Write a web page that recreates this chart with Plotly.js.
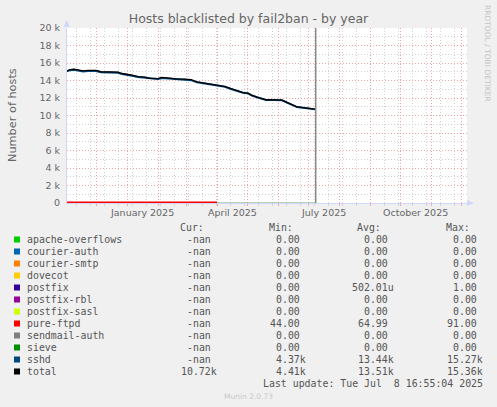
<!DOCTYPE html>
<html><head><meta charset="utf-8">
<script src="https://cdn.plot.ly/plotly-3.0.1.min.js"></script>
<style>html,body{margin:0;padding:0;background:#f0f0f0;}#chart{width:497px;height:407px;}</style>
</head><body><div id="chart"></div>
<script>
// ---- data ----
const dates = ['2024-11-02','2024-11-05','2024-11-09','2024-11-13','2024-11-18','2024-11-23','2024-12-01','2024-12-06','2024-12-13','2024-12-19','2024-12-23','2024-12-27','2025-01-02','2025-01-06','2025-01-12','2025-01-19','2025-01-23','2025-02-01','2025-02-05','2025-02-09','2025-02-15','2025-02-19','2025-02-28','2025-03-06','2025-03-12','2025-03-20','2025-03-26','2025-04-02','2025-04-09','2025-04-15','2025-04-21','2025-04-27','2025-05-02','2025-05-06','2025-05-11','2025-05-16','2025-05-20','2025-05-28','2025-06-05','2025-06-10','2025-06-15','2025-06-20','2025-06-28','2025-07-05','2025-07-08'];
const totalHosts = [15100,15250,15300,15200,15100,15150,15150,15000,15000,14980,14950,14800,14720,14620,14450,14380,14250,14220,14350,14300,14280,14180,14150,14100,13850,13720,13600,13450,13300,13050,12850,12620,12550,12300,12100,11950,11800,11780,11750,11500,11200,10980,10870,10780,10720];
const sshdHosts = [15040,15180,15230,15140,15040,15090,15080,14940,14940,14920,14890,14740,14660,14550,14390,14310,14190,14160,14280,14240,14220,14120,14090,14040,13790,13660,13540,13420,13280,13030,12830,12600,12530,12280,12080,11930,11780,11760,11730,11480,11180,10960,10850,10760,10700];
const ftpdDates = ['2024-11-02','2024-11-20','2024-12-10','2025-01-05','2025-02-01','2025-03-01','2025-04-01'];
const ftpdHosts = [66, 72, 58, 91, 60, 44, 65];
const sieveDates = ['2025-04-01','2025-07-08'];
const sieveHosts = [0, 0];
const nowDate = '2025-07-08 16:55';
const xRange = ['2024-11-02','2025-12-07'];
const yTickVals = [0,2000,4000,6000,8000,10000,12000,14000,16000,18000,20000];
const yTickText = ['0','2 k','4 k','6 k','8 k','10 k','12 k','14 k','16 k','18 k','20 k'];
const xLabelDates = ['2025-01-16','2025-04-16','2025-07-16','2025-10-16'];
const xLabelText = ['January 2025','April 2025','July 2025','October 2025'];
const seriesNames = ['apache-overflows','courier-auth','courier-smtp','dovecot','postfix','postfix-rbl','postfix-sasl','pure-ftpd','sendmail-auth','sieve','sshd','total'];
const curVals = ['-nan','-nan','-nan','-nan','-nan','-nan','-nan','-nan','-nan','-nan','-nan','10.72k'];
const minVals = ['0.00','0.00','0.00','0.00','0.00','0.00','0.00','44.00','0.00','0.00','4.37k','4.41k'];
const avgVals = ['0.00','0.00','0.00','0.00','502.01u','0.00','0.00','64.99','0.00','0.00','13.44k','13.51k'];
const maxVals = ['0.00','0.00','0.00','0.00','1.00','0.00','0.00','91.00','0.00','0.00','15.27k','15.36k'];
const colHeads = ['Cur:','Min:','Avg:','Max:'];
const titleText = 'Hosts blacklisted by fail2ban - by year';
const yTitle = 'Number of hosts';
const lastUpdate = 'Last update: Tue Jul\u00a0\u00a08 16:55:04 2025';
const footer = 'Munin 2.0.73';
const watermark = 'RRDTOOL / TOBI OETIKER';

// ---- styles ----
const seriesColors = ['#00cc00','#0066b3','#ff8000','#ffcc00','#330099','#990099','#ccff00','#ff0000','#808080','#008f00','#00487d','#000000'];
const FONT = 'DejaVu Sans';
const MONO = 'DejaVu Sans Mono';
const TXT = '#666666';
const L = 67, T = 28, PW = 400, PH = 175;
const px = x => (x - L) / PW;
const py = y => (T + PH - y) / PH;

const traces = [
  {x: sieveDates, y: sieveHosts, mode:'lines', line:{color:'#7fa87f', width:1}, hoverinfo:'skip'},
  {x: ftpdDates, y: ftpdHosts, mode:'lines', line:{color:'#ff0000', width:2}, hoverinfo:'skip'},
  {x: dates, y: sshdHosts, mode:'lines', line:{color:'#00487d', width:2}, hoverinfo:'skip'},
  {x: dates, y: totalHosts, mode:'lines', line:{color:'#000000', width:1.3}, hoverinfo:'skip'}
];

const ann = [];
const shapes = [];
function txt(t, x, y, o) {
  ann.push(Object.assign({text:t, xref:'paper', yref:'paper', x:px(x), y:py(y), showarrow:false,
    xanchor:'left', yanchor:'middle', borderpad:0, borderwidth:0,
    font:{family:MONO, size:9.9, color:'#555555'}}, o || {}));
}
// x labels (mid-month)
xLabelDates.forEach((d, i) => {
  ann.push({text:xLabelText[i], xref:'x', yref:'paper', x:d, y:py(212), showarrow:false,
    xanchor:'center', yanchor:'middle', borderpad:0, font:{family:FONT, size:9.5, color:TXT}});
});
// y title
txt(yTitle, 12, 115, {xanchor:'center', textangle:-90, font:{family:FONT, size:11.3, color:TXT}});
// watermark
txt(watermark, 488, 53, {xanchor:'center', textangle:90, font:{family:FONT, size:7.5, color:'#c4c4c4'}});
// legend header
const colRight = [217.3, 306, 394.3, 482.7];
const headRight = [204, 292.7, 381, 470];
colHeads.forEach((h, i) => txt(h, headRight[i], 227.3, {xanchor:'right'}));
const cols = [curVals, minVals, avgVals, maxVals];
seriesNames.forEach((n, r) => {
  const y = 239.5 + 12 * r;
  shapes.push({type:'rect', xref:'paper', yref:'paper', x0:px(14), x1:px(20), y0:py(y - 3), y1:py(y + 3),
    fillcolor:seriesColors[r], line:{width:0}});
  txt(n, 26.5, y);
  cols.forEach((c, i) => {
    const v = c[r];
    const s = /[0-9n]$/.test(v) ? v + '\u00a0' : v;
    txt(s, colRight[i], y, {xanchor:'right'});
  });
});
txt(lastUpdate, 482.7, 383.3, {xanchor:'right'});
txt(footer, 248, 396, {xanchor:'center', font:{family:FONT, size:7.5, color:'#c8c8c8'}});

// now line
shapes.push({type:'line', xref:'x', yref:'paper', x0:nowDate, x1:nowDate, y0:0, y1:1, line:{color:'#888888', width:1.5}});
// axis arrows
shapes.push({type:'path', xref:'paper', yref:'paper', path:`M ${px(63.7)} ${py(27)} L ${px(66.7)} ${py(20)} L ${px(69.7)} ${py(27)} Z`, fillcolor:'#cfd6f8', line:{width:0}});
shapes.push({type:'path', xref:'paper', yref:'paper', path:`M ${px(467)} ${py(200)} L ${px(474)} ${py(203)} L ${px(467)} ${py(206)} Z`, fillcolor:'#cfd6f8', line:{width:0}});

const MG = '#f0a4a4', mg = '#d2d2d2', DASH = '1px,2px';
const layout = {
  width:497, height:407, autosize:false,
  paper_bgcolor:'#f0f0f0', plot_bgcolor:'#ffffff',
  margin:{l:L, r:497 - L - PW, t:T, b:407 - T - PH, pad:0},
  showlegend:false,
  title:{text:titleText, font:{family:FONT, size:12.5, color:TXT}, x:0.5, xref:'container', xanchor:'center', y:1 - 19/407, yref:'container', yanchor:'middle'},
  xaxis:{type:'date', range:xRange, dtick:'M1', tick0:'2024-12-01', showticklabels:false,
    showgrid:true, gridcolor:MG, griddash:DASH, gridwidth:1,
    ticks:'outside', ticklen:2, tickcolor:MG,
    showline:true, linecolor:'#cfd6f8', linewidth:1, zeroline:false, layer:'below traces', fixedrange:true,
    minor:{tickmode:'linear', dtick:14*86400000, tick0:'2024-11-11', showgrid:true, gridcolor:mg, griddash:DASH, gridwidth:1, ticks:'outside', ticklen:2, tickcolor:mg}},
  yaxis:{range:[0,20000], tickmode:'array', tickvals:yTickVals, ticktext:yTickText,
    showgrid:true, gridcolor:MG, griddash:DASH, gridwidth:1,
    ticks:'outside', ticklen:4, tickcolor:'rgba(0,0,0,0)',
    tickfont:{family:FONT, size:9.5, color:TXT},
    showline:true, linecolor:'#cfd6f8', linewidth:1, zeroline:false, layer:'below traces', fixedrange:true,
    minor:{tickmode:'linear', tick0:0, dtick:1000, showgrid:true, gridcolor:mg, griddash:DASH, gridwidth:1}},
  annotations: ann,
  shapes: shapes
};
Plotly.newPlot('chart', traces, layout, {staticPlot:true, displayModeBar:false});
</script>
</body></html>
